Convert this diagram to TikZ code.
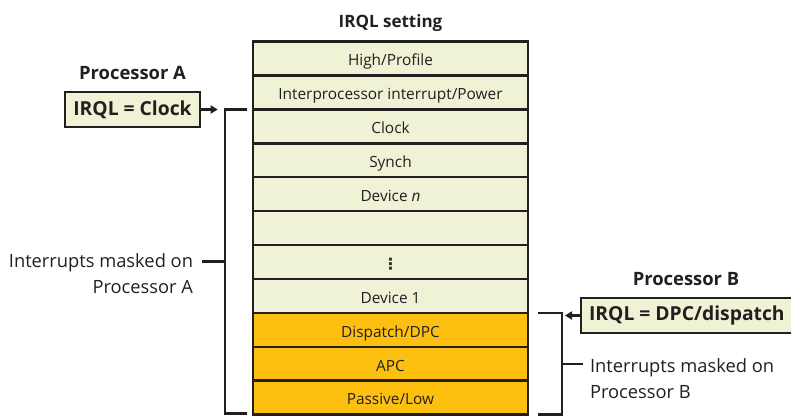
\documentclass[tikz,border=0pt]{standalone}
\usepackage{fontspec}
\setmainfont{Open Sans}
\newfontfamily\symbolfont{DejaVu Sans}
\usepackage{xcolor}
\usetikzlibrary{arrows.meta, positioning, calc}
\definecolor{ink}{HTML}{231F20}
\definecolor{levellight}{HTML}{F0F2D5}
\definecolor{levelmasked}{HTML}{FDC010}

\begin{document}
\begin{tikzpicture}
    [x=1pt, y=-1pt,
     every node/.style={text=ink, inner sep=0pt, outer sep=0pt},
     level/.style={draw=ink, line width=2.4pt, fill=levellight, minimum width=275pt,
                   minimum height=33.9pt, text height=14.6pt, text depth=0pt,
                   font=\fontsize{15.4}{18}\selectfont},
     masked/.style={level, fill=levelmasked},
     heading/.style={font=\bfseries\fontsize{18.4}{21}\selectfont},
     irqlbox/.style={draw=ink, line width=2.4pt, fill=levellight, inner xsep=8pt,
                     minimum height=35pt, font=\bfseries\fontsize{19.3}{22}\selectfont},
     note/.style={font=\fontsize{18.3}{26}\selectfont},
     bracket/.style={draw=ink, line width=2.4pt},
     pointer/.style={draw=ink, line width=2.4pt, -{Triangle[length=7pt, width=8pt]}}]

    \useasboundingbox (0,0) rectangle (791,416);

    \node[heading, font=\bfseries\fontsize{17}{20}\selectfont] (title) at (390.5,23.5) {IRQL setting};

    \node[level] (high) at (390.5,58.6) {High/Profile};
    \node[level, below=0pt of high] (ipi) {Interprocessor interrupt/Power};
    \node[level, below=0pt of ipi] (clock) {Clock};
    \node[level, below=0pt of clock] (synch) {Synch};
    \node[level, below=0pt of synch] (devn) {Device \textit{n}};
    \node[level, below=0pt of devn] (blank) {};
    \node[level, below=0pt of blank] (dots) {\symbolfont\bfseries ⋮};
    \node[level, below=0pt of dots] (dev1) {Device 1};
    \node[masked, below=0pt of dev1] (dispatch) {Dispatch/DPC};
    \node[masked, below=0pt of dispatch] (apc) {APC};
    \node[masked, below=0pt of apc] (passive) {Passive/Low};

    % processor A
    \node[heading] (procA) at (132.5,73) {Processor A};
    \node[irqlbox] (clockbox) at (132.5,109.5) {IRQL = Clock};
    \coordinate (atop) at ([xshift=-6pt]ipi.south west);
    \coordinate (abot) at ([xshift=-6pt, yshift=1pt]passive.south west);
    \coordinate (aline) at ([xshift=-22pt]$(atop)!.5!(abot)$);
    \draw[bracket] (atop) -- ++(-22,0) |- (abot);
    \draw[pointer] (clockbox.east) -- ++(18,0);
    \draw[bracket] (aline) -- ++(-23,0) coordinate (atick);
    \node[note, align=right, anchor=north east] (maskA) at ([xshift=-9pt, yshift=8pt]atick)
        {Interrupts masked on\\Processor A};

    % processor B
    \node[heading] (procB) at (686,279) {Processor B};
    \node[irqlbox, anchor=west] (dpcbox) at (581,315.5) {IRQL = DPC/dispatch};
    \coordinate (btop) at ([xshift=10pt]dev1.south east);
    \coordinate (bbot) at ([xshift=10pt]passive.south east);
    \coordinate (bline) at ([xshift=24pt]$(btop)!.5!(bbot)$);
    \draw[bracket] (btop) -- ++(24,0) |- (bbot);
    \draw[pointer] (dpcbox.west) -- ++(-16,0);
    \draw[bracket] (bline) -- ++(21,0) coordinate (btick);
    \node[note, align=left, anchor=north west] (maskB) at ([xshift=7pt, yshift=5pt]btick)
        {Interrupts masked on\\Processor B};
\end{tikzpicture}
\end{document}
